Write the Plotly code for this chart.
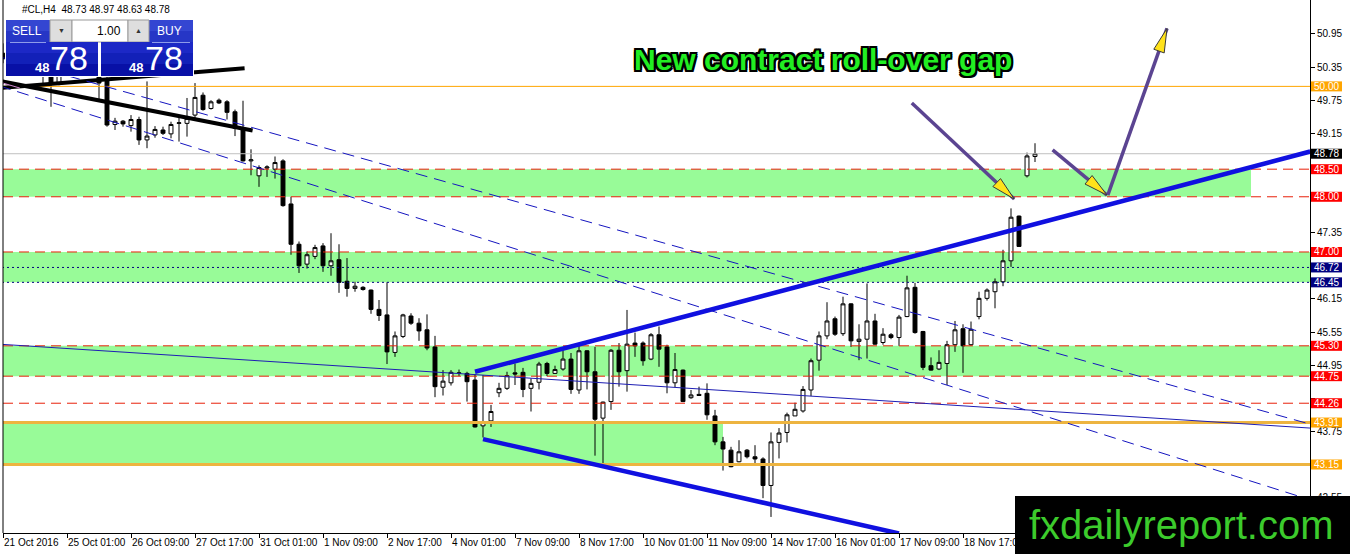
import math
import plotly.graph_objects as go

# ---- data: #CL H4 candles, bar 0 = 21 Oct 2016 17:00 ----
opens = [50.60, 50.50, 50.38, 50.46, 50.62, 50.40, 50.30, 50.06, 50.25, 50.45,
         50.62, 50.52, 50.28, 50.14, 49.31, 49.37, 49.29, 49.40, 49.03, 49.12,
         49.21, 49.14, 49.33, 49.33, 49.48, 49.84, 49.60, 49.75, 49.72, 49.54,
         49.21, 48.65, 48.38, 48.52, 48.50, 48.65, 47.87, 47.14, 46.78, 46.92,
         47.11, 46.75, 46.86, 46.47, 46.34, 46.36, 46.31, 45.96, 45.86, 45.18,
         45.47, 45.84, 45.71, 45.59, 45.28, 44.55, 44.63, 44.81, 44.80, 44.68,
         43.85, 43.94, 44.45, 44.53, 44.81, 44.82, 44.53, 44.64, 44.98, 44.80,
         44.88, 45.06, 44.50, 45.21, 44.83, 43.99, 44.29, 45.22, 44.85, 45.35,
         45.35, 45.06, 45.50, 45.28, 44.63, 44.86, 44.36, 44.42, 44.44, 44.03,
         43.56, 43.41, 43.20, 43.41, 43.29, 43.25, 42.77, 43.55, 43.73, 44.03,
         44.12, 44.50, 45.04, 45.48, 45.79, 45.52, 46.06, 45.38, 45.42, 45.75,
         45.36, 45.50, 45.45, 45.83, 46.36, 45.56, 44.94, 44.88, 44.98, 45.32,
         45.61, 45.32, 45.83, 46.16, 46.28, 46.46, 46.84, 47.65, 48.38, 48.73]
highs = [50.78, 50.62, 50.55, 50.70, 50.75, 50.55, 50.40, 50.32, 50.50, 50.70,
         50.80, 50.60, 50.35, 50.20, 49.43, 49.39, 49.48, 49.45, 50.09, 49.28,
         49.27, 49.36, 49.43, 49.79, 50.06, 49.89, 49.75, 49.78, 49.75, 49.58,
         49.74, 48.86, 48.57, 48.57, 48.73, 48.68, 48.00, 47.19, 47.01, 47.13,
         47.16, 47.34, 47.14, 46.89, 46.46, 46.38, 46.32, 46.13, 46.45, 45.56,
         45.88, 45.89, 45.80, 45.87, 45.48, 44.86, 44.86, 44.87, 44.83, 44.79,
         44.77, 44.23, 44.63, 44.83, 44.98, 44.90, 44.71, 45.01, 45.01, 44.94,
         45.22, 45.17, 45.35, 45.22, 45.28, 44.29, 45.24, 45.35, 45.95, 45.54,
         45.38, 45.53, 45.65, 45.32, 45.17, 44.87, 44.50, 44.56, 44.62, 44.14,
         43.65, 43.47, 43.59, 43.43, 43.50, 43.28, 43.73, 43.81, 44.09, 44.27,
         44.57, 45.07, 45.56, 46.09, 45.83, 46.19, 46.07, 45.69, 46.43, 45.88,
         45.62, 45.53, 45.86, 46.57, 46.44, 45.57, 45.09, 45.22, 45.39, 45.75,
         45.69, 45.74, 46.28, 46.34, 46.52, 47.04, 47.79, 47.66, 48.80, 48.97]
lows = [50.42, 50.30, 50.25, 50.40, 50.35, 50.06, 49.63, 50.02, 50.22, 50.38,
        50.45, 50.25, 49.75, 49.27, 49.21, 49.27, 49.18, 48.94, 48.88, 49.07,
        49.12, 49.06, 49.00, 49.09, 49.42, 49.56, 49.58, 49.68, 49.40, 49.10,
        48.64, 48.39, 48.18, 48.36, 48.33, 47.82, 46.95, 46.62, 46.70, 46.87,
        46.64, 46.57, 46.26, 46.19, 46.28, 46.30, 45.88, 45.75, 44.97, 45.10,
        45.44, 45.68, 45.39, 45.22, 44.37, 44.40, 44.58, 44.75, 44.29, 43.82,
        43.64, 43.83, 44.37, 44.50, 44.59, 44.37, 44.11, 44.51, 44.75, 44.79,
        44.85, 44.43, 44.43, 44.51, 43.31, 43.13, 44.14, 44.56, 44.47, 45.10,
        44.94, 45.04, 44.92, 44.44, 44.55, 44.28, 44.34, 44.40, 43.96, 43.50,
        43.04, 43.10, 43.19, 43.26, 43.14, 42.54, 42.20, 43.26, 43.55, 44.03,
        44.09, 44.39, 44.85, 45.42, 45.48, 45.48, 45.28, 45.04, 45.07, 45.32,
        45.32, 45.42, 45.30, 45.82, 45.52, 44.86, 44.85, 44.86, 44.59, 45.19,
        44.81, 45.30, 45.78, 46.12, 45.98, 46.38, 46.73, 47.10, 48.35, 48.63]
closes = [50.50, 50.38, 50.46, 50.62, 50.40, 50.30, 50.04, 50.25, 50.45, 50.62,
          50.52, 50.30, 50.06, 49.30, 49.37, 49.32, 49.40, 49.03, 49.10, 49.22,
          49.15, 49.31, 49.34, 49.42, 49.80, 49.58, 49.72, 49.70, 49.53, 49.24,
          48.65, 48.67, 48.53, 48.54, 48.62, 47.84, 47.14, 46.75, 46.95, 47.08,
          46.75, 46.84, 46.45, 46.34, 46.38, 46.32, 45.96, 45.85, 45.19, 45.48,
          45.86, 45.71, 45.57, 45.26, 44.56, 44.66, 44.82, 44.80, 44.65, 43.83,
          43.91, 44.11, 44.53, 44.76, 44.79, 44.51, 44.62, 44.97, 44.80, 44.87,
          45.06, 44.51, 45.21, 44.83, 43.97, 44.28, 45.22, 44.83, 45.33, 45.30,
          45.03, 45.50, 45.24, 44.63, 44.87, 44.29, 44.41, 44.40, 44.05, 43.56,
          43.43, 43.11, 43.38, 43.29, 43.25, 42.77, 43.56, 43.72, 44.05, 44.15,
          44.51, 45.03, 45.48, 45.75, 45.51, 46.06, 45.39, 45.42, 45.75, 45.33,
          45.51, 45.45, 45.82, 46.35, 45.54, 44.91, 44.86, 45.00, 45.32, 45.59,
          45.30, 45.60, 46.16, 46.31, 46.46, 46.84, 47.63, 47.10, 48.74, 48.78]

tick_bars = [0, 8, 16, 24, 32, 40, 48, 56, 64, 72, 80, 88, 96, 104, 112, 120]
tick_text = ["21 Oct 2016", "25 Oct 01:00", "26 Oct 09:00", "27 Oct 17:00",
             "31 Oct 01:00", "1 Nov 09:00", "2 Nov 17:00", "4 Nov 01:00",
             "7 Nov 09:00", "8 Nov 17:00", "10 Nov 01:00", "11 Nov 09:00",
             "14 Nov 17:00", "16 Nov 01:00", "17 Nov 09:00", "18 Nov 17:00"]
price_ticks = [42.55, 43.15, 43.75, 44.35, 44.95, 45.55, 46.15, 46.75,
               47.35, 47.95, 48.55, 49.15, 49.75, 50.35, 50.95]
# scale labels that sit under the coloured price tags
covered_ticks = [43.15, 44.35, 46.75, 47.95, 48.55]

# horizontal levels
level_values = [50.00, 48.50, 48.00, 47.00, 46.72, 46.45, 45.30, 44.75, 44.26, 43.91, 43.15]
level_colors = ["#FFA500", "#E8200A", "#E8200A", "#E8200A", "#000080", "#000080",
                "#E8200A", "#E8200A", "#E8200A", "#EDB440", "#EDB440"]
level_widths = [1, 1, 1, 1, 1, 1, 1, 1, 1, 3, 3]
level_dashes = ["solid", "10px,6px", "10px,6px", "10px,6px", "2px,3px", "2px,3px",
                "10px,6px", "10px,6px", "10px,6px", "solid", "solid"]
label_colors = ["#FFA500", "#FF0000", "#FF0000", "#FF0000", "#000080", "#000080",
                "#FF0000", "#FF0000", "#FF0000", "#FFA500", "#FFA500"]

# green zones (low, high, last bar)
zone_low = [48.00, 46.45, 44.75, 43.15]
zone_high = [48.50, 47.00, 45.30, 43.91]
zone_end = [156, 170, 170, 90]

# trendlines: bar0, price0, bar1, price1
trend_bar0 = [-0.5, -0.5, 59, 60, -0.5, -1, -0.5, 0]
trend_p0 = [50.10, 49.97, 44.83, 43.61, 45.33, 50.56, 50.01, 50.06]
trend_bar1 = [31.2, 30.2, 163.4, 112, 163.4, 163.4, 163.4, 2.1]
trend_p1 = [49.20, 50.33, 48.82, 41.90, 43.81, 43.88, 42.51, 49.97]
trend_color = ["black", "black", "#1010E0", "#1010E0", "#1E1EB4", "#1515C0", "#1515C0", "#D58AD5"]
trend_width = [4, 4, 4.5, 4.5, 1, 1, 1, 1]
trend_dash = ["solid", "solid", "solid", "solid", "solid", "12px,7px", "12px,7px", "solid"]

# arrows drawn on the chart
arrow_tail_bar = [113.6, 131.2, 138.1]
arrow_tail_price = [49.70, 48.85, 48.03]
arrow_tip_bar = [126.4, 138.0, 145.5]
arrow_tip_price = [47.96, 48.03, 51.05]

FONT = "Liberation Sans, Arial, sans-serif"
X_MIN, X_MAX = 0, 163.375
Y_MIN, Y_MAX = 41.909, 51.565
PLOT_L, PLOT_R, PLOT_T, PLOT_B = 3, 1310, 0, 533
PX_PER_BAR = (PLOT_R - PLOT_L) / (X_MAX - X_MIN)
PX_PER_PRICE = (PLOT_B - PLOT_T) / (Y_MAX - Y_MIN)


def xp(px):
    return (px - PLOT_L) / (PLOT_R - PLOT_L)


def yp(py):
    return (PLOT_B - py) / (PLOT_B - PLOT_T)


def pp(price):
    return (price - Y_MIN) / (Y_MAX - Y_MIN)


bars = list(range(len(opens)))

fig = go.Figure()
fig.add_trace(go.Candlestick(
    x=bars, open=opens, high=highs, low=lows, close=closes,
    increasing=dict(line=dict(color="black", width=1), fillcolor="white"),
    decreasing=dict(line=dict(color="black", width=1), fillcolor="black"),
    whiskerwidth=0, showlegend=False, hoverinfo="skip"))

shapes = []
for lo, hi, end in zip(zone_low, zone_high, zone_end):
    shapes.append(dict(type="rect", xref="x", yref="y", x0=-2, x1=end, y0=lo, y1=hi,
                       fillcolor="#98FB98", line_width=0, layer="below"))

# current bid line
shapes.append(dict(type="line", xref="x", yref="y", x0=-2, x1=170,
                   y0=closes[-1], y1=closes[-1], line=dict(color="#C0C0C0", width=1)))

for v, c, w, d in zip(level_values, level_colors, level_widths, level_dashes):
    shapes.append(dict(type="line", xref="x", yref="y", x0=-2, x1=170, y0=v, y1=v,
                       line=dict(color=c, width=w, dash=d)))

for b0, p0, b1, p1, c, w, d in zip(trend_bar0, trend_p0, trend_bar1, trend_p1,
                                   trend_color, trend_width, trend_dash):
    shapes.append(dict(type="line", xref="x", yref="y", x0=b0, y0=p0, x1=b1, y1=p1,
                       line=dict(color=c, width=w, dash=d)))

# arrows: shaft + yellow head
for tb, tp, hb, hp in zip(arrow_tail_bar, arrow_tail_price, arrow_tip_bar, arrow_tip_price):
    shapes.append(dict(type="line", xref="x", yref="y", x0=tb, y0=tp, x1=hb, y1=hp,
                       line=dict(color="#5B4491", width=3.5)))
for tb, tp, hb, hp in zip(arrow_tail_bar, arrow_tail_price, arrow_tip_bar, arrow_tip_price):
    dx = (hb - tb) * PX_PER_BAR
    dy = (hp - tp) * PX_PER_PRICE
    n = math.hypot(dx, dy)
    ux, uy = dx / n, dy / n
    L, W = 24, 5.5
    bx, by = -L * ux, -L * uy
    path = "M 0,0 L {:.1f},{:.1f} L {:.1f},{:.1f} Z".format(
        bx - W * uy, by + W * ux, bx + W * uy, by - W * ux)
    shapes.append(dict(type="path", xref="x", yref="y", xsizemode="pixel", ysizemode="pixel",
                       xanchor=hb, yanchor=hp, path=path, fillcolor="#FFE21A",
                       line=dict(color="#3A3A3A", width=1)))

# left border
shapes.append(dict(type="line", xref="paper", yref="paper", x0=0, x1=0, y0=0, y1=1,
                   line=dict(color="black", width=1)))

annotations = []

# price labels on the right scale
label_vals = level_values + [closes[-1]]
label_bg = label_colors + ["black"]
for v, c in zip(label_vals, label_bg):
    shapes.append(dict(type="rect", xref="paper", yref="paper",
                       x0=xp(1311), x1=xp(1342), y0=pp(v) - 5 / 533, y1=pp(v) + 5 / 533,
                       fillcolor=c, line_width=0))
    annotations.append(dict(xref="paper", yref="paper", x=xp(1326.5), y=pp(v), text=f"{v:.2f}",
                            showarrow=False, xanchor="center", yanchor="middle",
                            font=dict(family=FONT, size=10, color="white")))

# one-click trading panel
panel_rects = [
    (5, 19, 194, 77, "white", None),
    (6, 20, 50, 31, "#3446D2", None),
    (6, 31, 50, 42, "#2636C6", None),
    (149, 20, 193, 31, "#3446D2", None),
    (149, 31, 193, 42, "#2636C6", None),
    (50, 20, 72, 42, "#DEDEDE", "#9A9A9A"),
    (72, 20, 128, 42, "white", "#9A9A9A"),
    (128, 20, 149, 42, "#DEDEDE", "#9A9A9A"),
    (6, 42, 98, 53, "#1C28C6", None),
    (6, 53, 98, 64, "#1220B8", None),
    (6, 64, 98, 76, "#0810A6", None),
    (101, 42, 193, 53, "#1C28C6", None),
    (101, 53, 193, 64, "#1220B8", None),
    (101, 64, 193, 76, "#0810A6", None),
]
for x0, y0, x1, y1, fc, lc in panel_rects:
    shapes.append(dict(type="rect", xref="paper", yref="paper",
                       x0=xp(x0), x1=xp(x1), y0=yp(y1), y1=yp(y0), fillcolor=fc,
                       line=dict(color=lc, width=1) if lc else dict(width=0)))
for x0, x1 in [(10, 46), (152, 190)]:
    shapes.append(dict(type="line", xref="paper", yref="paper", x0=xp(x0), x1=xp(x1),
                       y0=yp(42.5), y1=yp(42.5), line=dict(color="#8E9BEA", width=1)))

bid = f"{closes[-1]:.2f}"
big_fig, small_fig = bid.split(".")[1], bid.split(".")[0]
panel_texts = [
    (26.5, 31, "SELL", 12, "white", "center"),
    (169.7, 31, "BUY", 12, "white", "center"),
    (123, 31, "1.00", 12, "black", "right"),
    (61, 31, "▼", 7, "#333333", "center"),
    (138.5, 31, "▲", 7, "#333333", "center"),
    (41.7, 67, "<b>" + small_fig + "</b>", 13, "white", "center"),
    (69.2, 58, big_fig, 34, "white", "center"),
    (136.3, 67, "<b>" + small_fig + "</b>", 13, "white", "center"),
    (163.8, 58, big_fig, 34, "white", "center"),
]
for x, y, t, s, c, xa in panel_texts:
    annotations.append(dict(xref="paper", yref="paper", x=xp(x), y=yp(y), text=t,
                            showarrow=False, xanchor=xa, yanchor="middle",
                            font=dict(family=FONT, size=s, color=c)))

# header
annotations.append(dict(xref="paper", yref="paper", x=xp(20), y=yp(10),
                        text="#CL,H4  {:.2f} {:.2f} {:.2f} {:.2f}".format(
                            opens[-1], highs[-1], lows[-1], closes[-1]),
                        showarrow=False, xanchor="left", yanchor="middle",
                        font=dict(family=FONT, size=10, color="black")))

# title
outline = ", ".join(f"{a}px {b}px 0 #000" for a in (-2, 0, 2) for b in (-2, 0, 2) if a or b)
annotations.append(dict(xref="paper", yref="paper", x=xp(823), y=yp(59),
                        text="<b>New contract roll-over gap</b>", showarrow=False,
                        xanchor="center", yanchor="middle",
                        font=dict(family=FONT, size=30, color="#22EE22", shadow=outline)))

# logo
shapes.append(dict(type="rect", xref="paper", yref="paper", x0=xp(1015), x1=xp(1352),
                   y0=yp(556), y1=yp(496), fillcolor="black", line_width=0))
annotations.append(dict(xref="paper", yref="paper", x=xp(1181), y=yp(525),
                        text="fxdailyreport.com", showarrow=False, xanchor="center",
                        yanchor="middle", font=dict(family=FONT, size=40, color="#3CCB2C")))

fig.update_layout(
    width=1350, height=554,
    margin=dict(l=PLOT_L, r=1350 - PLOT_R, t=PLOT_T, b=554 - PLOT_B, autoexpand=False),
    paper_bgcolor="white", plot_bgcolor="white", showlegend=False,
    shapes=shapes, annotations=annotations,
    xaxis=dict(range=[X_MIN, X_MAX], showgrid=False, zeroline=False, showline=True,
               linecolor="black", linewidth=1, ticks="outside", ticklen=4, tickcolor="black",
               tickvals=tick_bars, ticktext=tick_text, ticklabelposition="outside right",
               tickangle=0, automargin=False,
               tickfont=dict(family=FONT, size=10, color="black"),
               rangeslider=dict(visible=False), fixedrange=True),
    yaxis=dict(range=[Y_MIN, Y_MAX], side="right", showgrid=False, zeroline=False,
               showline=True, linecolor="black", linewidth=1, ticks="outside", ticklen=4,
               tickcolor="black", tickvals=price_ticks, automargin=False,
               ticktext=["" if v in covered_ticks else f"{v:.2f}" for v in price_ticks],
               tickfont=dict(family=FONT, size=10, color="black"), fixedrange=True),
)

# page body has a default 8px margin; drop it so the figure sits at the window origin
fig.write_html("out.html", config={"displayModeBar": False},
               post_script="document.body.style.margin='0px';")
